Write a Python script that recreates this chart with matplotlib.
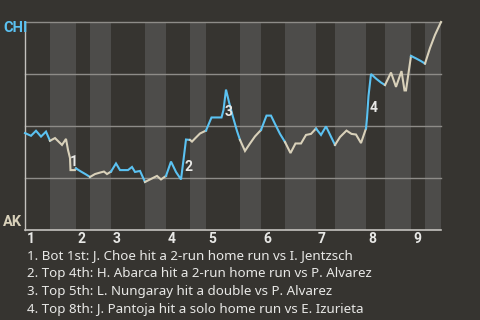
import matplotlib
matplotlib.use("Agg")
import matplotlib.pyplot as plt
import matplotlib.transforms as mtransforms

# ---- data ----
half_bounds = [0, 5, 10.2, 13, 17.2, 24, 28.2, 33, 36.2, 43, 47.2, 52, 58.2, 62,
               68.2, 72, 77.2, 80, 83.2]
inning_labels = ["1", "2", "3", "4", "5", "6", "7", "8", "9"]

event_x = [0, 1.2, 2.2, 3.2, 4.2, 5,
           6, 6.8, 7.4, 8.2, 8.6, 9.0, 9.1, 10.0, 10.2,
           11.2, 12.2, 13,
           14, 15, 15.8, 16.4, 17.2,
           18.2, 19, 20.6, 21.4, 22, 23, 24,
           25, 26.4, 27.2, 28.2,
           29.2, 30.2, 31.2, 31.7, 32.2, 33,
           33.4, 34, 35, 36.2,
           37, 37.3, 39.3, 39.7, 40.2, 40.8, 41.6, 42.4, 43,
           44, 45, 46, 47.2,
           48.3, 49.2, 50, 51, 52,
           53.1, 54.1, 55.2, 56.2, 57.2, 58.2,
           59.2, 60.2, 62,
           63, 64.3, 65.3, 66.2, 67.2, 68.2,
           68.4, 68.7, 69.2, 70.2, 71.2, 72,
           73.2, 74.2, 75.3, 75.9, 76.2, 77.2,
           78.2, 79.2, 80,
           81, 82, 83.2]
chi_win_prob = [0.466, 0.453, 0.477, 0.449, 0.473, 0.429,
                0.442, 0.423, 0.409, 0.438, 0.385, 0.346, 0.288, 0.288, 0.296,
                0.281, 0.267, 0.255,
                0.269, 0.276, 0.281, 0.269, 0.281,
                0.320, 0.288, 0.288, 0.303, 0.279, 0.284, 0.231,
                0.243, 0.260, 0.243, 0.260,
                0.329, 0.279, 0.243, 0.337, 0.435, 0.433,
                0.425, 0.440, 0.464, 0.478,
                0.524, 0.541, 0.541, 0.577, 0.675, 0.615, 0.543, 0.476, 0.433,
                0.380, 0.416, 0.450, 0.481,
                0.550, 0.550, 0.510, 0.462, 0.423,
                0.370, 0.416, 0.416, 0.457, 0.462, 0.488,
                0.457, 0.498, 0.409,
                0.447, 0.478, 0.462, 0.459, 0.418, 0.488,
                0.538, 0.644, 0.750, 0.728, 0.709, 0.697,
                0.757, 0.688, 0.764, 0.671, 0.671, 0.837,
                0.825, 0.812, 0.800,
                0.875, 0.938, 1.0]

key_x = [9.7, 32.7, 40.7, 69.7]
key_p = [0.327, 0.305, 0.567, 0.587]
key_labels = ["1", "2", "3", "4"]
captions = [
    "1. Bot 1st: J. Choe hit a 2-run home run vs I. Jentzsch",
    "2. Top 4th: H. Abarca hit a 2-run home run vs P. Alvarez",
    "3. Top 5th: L. Nungaray hit a double vs P. Alvarez",
    "4. Top 8th: J. Pantoja hit a solo home run vs E. Izurieta",
]
team_top = "CHI"
team_bottom = "AK"

# ---- style ----
BG = "#363430"
BAND = "#4d4c4a"
BLUE = "#5bc2f2"
BEIGE = "#d9d1ba"
TXT = "#e8e8e6"
FONT = "Noto Sans"
BOLDFONT = "Roboto"

fig = plt.figure(figsize=(4.8, 3.2), dpi=100, facecolor=BG)
ax = fig.add_axes([25/480, 90/320, 416/480, 208/320])
ax.set_facecolor(BG)
ax.set_xlim(half_bounds[0], half_bounds[-1])
ax.set_ylim(0, 1)

# bottom half-inning bands
for k in range(1, len(half_bounds) - 1, 2):
    ax.axvspan(half_bounds[k], half_bounds[k + 1], color=BAND, lw=0, zorder=0)

for g in [0.25, 0.5, 0.75, 1.0]:
    ax.axhline(g, color="#8e8c88", lw=1.0, zorder=1, clip_on=False)

# line segments coloured by half-inning
for k in range(len(half_bounds) - 1):
    lo, hi = half_bounds[k], half_bounds[k + 1]
    xs = [x for x in event_x if lo - 1e-9 <= x <= hi + 1e-9]
    ps = [p for x, p in zip(event_x, chi_win_prob) if lo - 1e-9 <= x <= hi + 1e-9]
    ax.plot(xs, ps, color=BLUE if k % 2 == 0 else BEIGE, lw=1.5, zorder=3,
            solid_joinstyle="miter", clip_on=False)

for x, p, t in zip(key_x, key_p, key_labels):
    ax.text(x, p, t, color=TXT, fontsize=10, fontweight="bold", family=BOLDFONT,
            ha="center", va="center", zorder=4)

for s in ["top", "right"]:
    ax.spines[s].set_visible(False)
ax.spines["left"].set_color("#c4c2be")
ax.spines["bottom"].set_color("#c4c2be")
ax.spines["left"].set_linewidth(1.0)
ax.spines["bottom"].set_linewidth(1.2)
ax.set_yticks([])
starts = [half_bounds[i] for i in range(0, len(half_bounds) - 1, 2)]
ax.set_xticks(starts)
ax.set_xticklabels(inning_labels, fontsize=10, fontweight="bold", color=TXT,
                   family=BOLDFONT)
ax.tick_params(axis="x", length=0, pad=1.5)
offset = mtransforms.ScaledTranslation(2/100, 0, fig.dpi_scale_trans)
for lab in ax.get_xticklabels():
    lab.set_horizontalalignment("left")
    lab.set_transform(lab.get_transform() + offset)

fig.text(3/480, 1 - 28.5/320, team_top, color=BLUE, fontsize=10.5,
         fontweight="bold", family=BOLDFONT, ha="left", va="center")
fig.text(3/480, 1 - 221.5/320, team_bottom, color=BEIGE, fontsize=10.5,
         fontweight="bold", family=BOLDFONT, ha="left", va="center")

for i, c in enumerate(captions):
    fig.text(27/480, 1 - (259 + 18*i)/320, c, color=TXT, fontsize=9.6,
             family=FONT, ha="left", va="baseline")

fig.savefig("out.png", dpi=100, facecolor=BG)
